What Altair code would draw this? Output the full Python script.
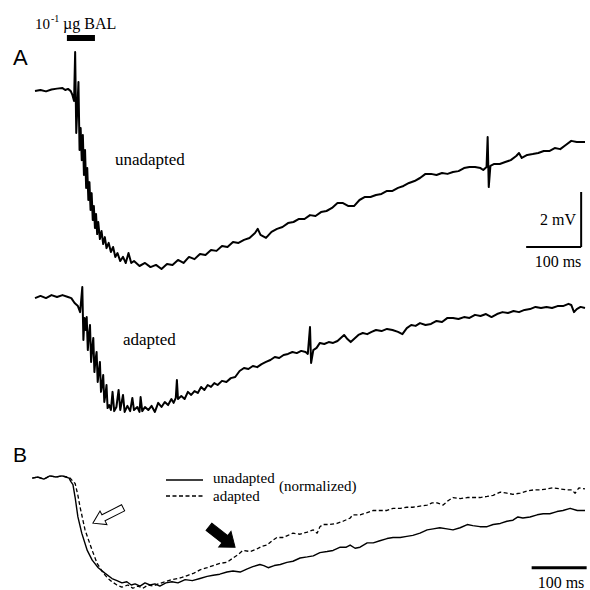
import altair as alt
import pandas as pd

# ---------------- data (time in ms, voltage in mV / normalized units) ----------------
unadapted_A = [(0,-0.04),(10,0),(20,-0.05),(30,0.02),(40,0.05),(50,0.07),(55,0),(60,0.04),(65,-0.04),(68,-0.18),
    (71,-0.4),(73,1.38),(75,-1.56),(77,-0.65),(79,0.29),(81,-2.18),(83,-1.38),(85,-2.55),(87,-1.64),(89,-3.09),
    (91,-2.18),(93,-3.56),(95,-2.84),(97,-4.0),(99,-3.35),(101,-4.36),(103,-3.75),(105,-4.73),(107,-4.22),(109,-5.02),
    (111,-4.51),(113,-5.24),(115,-4.8),(118,-5.42),(121,-5.13),(124,-5.6),(127,-5.35),(130,-5.75),(134,-5.56),(138,-5.89),
    (142,-5.71),(146,-6.07),(150,-5.93),(155,-6.22),(160,-6.07),(165,-6.29),(170,-5.93),(175,-6.29),(180,-6.22),(190,-6.4),
    (200,-6.29),(210,-6.44),(220,-6.36),(230,-6.51),(240,-6.33),(250,-6.36),(260,-6.18),(270,-6.29),(280,-6.07),(290,-6.15),
    (300,-5.96),(310,-6.0),(320,-5.82),(330,-5.85),(340,-5.67),(350,-5.71),(360,-5.53),(370,-5.56),(380,-5.45),(390,-5.38),
    (400,-5.2),(405,-5.05),(410,-5.27),(420,-5.38),(430,-5.16),(440,-5.05),(450,-4.98),(460,-4.84),(470,-4.8),(480,-4.69),
    (490,-4.69),(500,-4.55),(510,-4.58),(520,-4.44),(530,-4.4),(540,-4.29),(550,-4.11),(560,-4.11),(570,-4.22),(580,-4.22),
    (590,-4.0),(600,-3.89),(610,-3.89),(620,-3.82),(630,-3.78),(640,-3.67),(650,-3.67),(660,-3.56),(670,-3.49),(680,-3.38),
    (690,-3.31),(700,-3.2),(710,-3.05),(720,-3.05),(730,-3.09),(740,-3.02),(750,-3.05),(760,-2.98),(770,-2.95),(780,-2.84),
    (790,-2.8),(800,-2.8),(810,-2.84),(815,-2.91),(821,-2.8),(823,-1.71),(825,-3.53),(828,-2.76),(835,-2.69),(845,-2.69),
    (855,-2.62),(865,-2.55),(875,-2.4),(880,-2.29),(885,-2.47),(895,-2.36),(905,-2.33),(915,-2.29),(925,-2.22),(935,-2.22),
    (945,-2.11),(955,-2.15),(965,-2.0),(975,-1.85),(985,-1.89),(1000,-1.89)]

adapted_A = [(0,-0.04),(10,0.04),(20,-0.04),(30,0.07),(40,0),(50,0.07),(60,0),(66,-0.04),(72,-0.22),(78,-0.33),
    (82,-0.55),(84,-0.11),(86,0.36),(88,-1.56),(90,-0.76),(92,-1.2),(94,-0.73),(96,-1.93),(98,-1.38),(100,-1.02),
    (102,-2.36),(104,-1.85),(106,-1.49),(108,-2.73),(110,-2.29),(112,-2.0),(114,-3.09),(116,-2.73),(118,-2.36),(120,-3.45),
    (122,-3.2),(124,-2.84),(126,-3.82),(128,-3.56),(130,-3.2),(132,-4.04),(135,-3.93),(138,-4.11),(141,-3.45),(144,-4.15),
    (148,-4.0),(152,-3.38),(155,-4.11),(160,-3.56),(163,-4.18),(168,-3.96),(173,-4.15),(177,-3.67),(180,-4.11),(186,-4.0),
    (190,-4.18),(192,-3.64),(195,-4.15),(200,-4.0),(206,-4.11),(212,-3.96),(218,-4.18),(224,-3.85),(230,-4.0),(236,-3.82),
    (242,-3.93),(248,-3.71),(252,-3.85),(256,-3.67),(258,-3.02),(260,-3.71),(266,-3.6),(272,-3.71),(278,-3.45),(284,-3.56),
    (290,-3.42),(296,-3.49),(302,-3.27),(308,-3.38),(314,-3.2),(320,-3.27),(326,-3.13),(332,-3.2),(340,-3.05),(348,-3.09),
    (356,-2.95),(364,-2.91),(372,-2.69),(380,-2.58),(388,-2.62),(396,-2.51),(404,-2.55),(412,-2.44),(420,-2.36),(428,-2.29),
    (436,-2.18),(444,-2.22),(452,-2.11),(460,-2.07),(468,-2.0),(476,-2.04),(484,-1.96),(492,-2.0),(496,-2.07),(500,-1.09),
    (502,-2.4),(506,-1.93),(512,-1.85),(518,-1.67),(526,-1.71),(534,-1.64),(542,-1.67),(550,-1.6),(556,-1.49),(562,-1.38),
    (568,-1.53),(574,-1.64),(580,-1.53),(588,-1.38),(596,-1.31),(604,-1.35),(612,-1.27),(620,-1.2),(630,-1.24),(640,-1.16),
    (650,-1.2),(660,-1.27),(668,-1.35),(676,-1.13),(684,-1.02),(692,-1.05),(700,-0.95),(710,-1.02),(720,-0.98),(730,-0.87),
    (740,-0.91),(750,-0.76),(760,-0.76),(770,-0.8),(780,-0.73),(790,-0.76),(800,-0.65),(810,-0.69),(820,-0.62),(830,-0.73),
    (840,-0.62),(850,-0.55),(860,-0.58),(870,-0.51),(880,-0.55),(890,-0.47),(900,-0.44),(910,-0.36),(920,-0.4),(930,-0.36),
    (940,-0.4),(950,-0.33),(960,-0.33),(970,-0.25),(975,-0.29),(980,-0.55),(985,-0.44),(992,-0.36),(1000,-0.4)]

unadapted_B = [(-5,-0.01),(5,0),(16,-0.02),(27,0.01),(38,0),(49,0.01),(56,0),(62,-0.01),(65,-0.04),(69,-0.07),
    (73,-0.19),(78,-0.37),(85,-0.52),(95,-0.68),(104,-0.77),(115,-0.84),(127,-0.89),(140,-0.94),(149,-0.96),(158,-0.98),
    (167,-0.97),(175,-1.0),(182,-0.99),(191,-1.01),(200,-0.98),(209,-1.0),(218,-0.99),(227,-1.01),(238,-0.98),(249,-0.97),
    (260,-0.98),(273,-0.95),(286,-0.96),(300,-0.94),(313,-0.92),(324,-0.91),(336,-0.9),(349,-0.88),(360,-0.87),(373,-0.88),
    (386,-0.85),(396,-0.83),(409,-0.81),(416,-0.82),(424,-0.84),(435,-0.82),(446,-0.81),(458,-0.79),(469,-0.78),(482,-0.75),
    (495,-0.74),(506,-0.73),(518,-0.7),(531,-0.69),(542,-0.68),(555,-0.65),(566,-0.65),(573,-0.63),(582,-0.66),(591,-0.65),
    (604,-0.61),(615,-0.61),(627,-0.59),(640,-0.57),(651,-0.56),(664,-0.56),(676,-0.55),(687,-0.54),(700,-0.52),(713,-0.49),
    (724,-0.48),(736,-0.47),(749,-0.48),(760,-0.49),(773,-0.47),(786,-0.44),(796,-0.45),(809,-0.46),(822,-0.46),(833,-0.44),
    (846,-0.43),(858,-0.41),(869,-0.4),(878,-0.37),(887,-0.38),(900,-0.37),(913,-0.35),(924,-0.34),(936,-0.34),(949,-0.32),
    (960,-0.31),(973,-0.29),(986,-0.31),(1000,-0.31)]

adapted_B = [(-5,-0.01),(5,0),(16,-0.02),(27,0.01),(38,0),(49,0.01),(58,0),(64,-0.01),(69,-0.04),(73,-0.06),
    (78,-0.17),(82,-0.28),(91,-0.49),(104,-0.68),(113,-0.8),(124,-0.89),(133,-0.94),(140,-0.97),(149,-1.0),(158,-1.02),
    (169,-1.0),(178,-1.03),(187,-1.01),(196,-1.03),(206,-1.0),(215,-1.01),(224,-0.99),(236,-0.97),(249,-0.95),(260,-0.94),
    (267,-0.93),(278,-0.91),(289,-0.89),(300,-0.86),(313,-0.84),(324,-0.82),(336,-0.8),(349,-0.79),(360,-0.75),(369,-0.72),
    (378,-0.68),(391,-0.69),(402,-0.67),(413,-0.64),(422,-0.63),(431,-0.59),(440,-0.56),(451,-0.56),(460,-0.54),(469,-0.52),
    (482,-0.53),(495,-0.51),(506,-0.49),(513,-0.52),(518,-0.46),(524,-0.44),(536,-0.44),(549,-0.43),(560,-0.41),(573,-0.38),
    (578,-0.35),(591,-0.35),(604,-0.33),(615,-0.31),(627,-0.31),(640,-0.31),(651,-0.29),(664,-0.29),(676,-0.28),(687,-0.28),
    (700,-0.27),(713,-0.26),(722,-0.24),(731,-0.24),(742,-0.26),(751,-0.22),(760,-0.19),(773,-0.2),(786,-0.19),(796,-0.19),
    (809,-0.19),(822,-0.18),(833,-0.17),(846,-0.14),(858,-0.15),(869,-0.16),(882,-0.15),(895,-0.13),(906,-0.12),(918,-0.12),
    (931,-0.11),(942,-0.1),(955,-0.11),(967,-0.12),(976,-0.12),(982,-0.15),(989,-0.1),(1000,-0.11)]

stimulus_ms = [58, 109]          # 10^-1 ug BAL application
scalebar_ms = 100
scalebar_mV = 2

# ---------------- layout (pixel geometry of the figure) ----------------
W = H = 590
PX_PER_MS = 0.55
X0 = 35                       # pixel of t = 0
PX_PER_MV = 27.5
Y_A1 = 90                     # pixel of baseline, trace A unadapted
Y_A2 = 297                    # pixel of baseline, trace A adapted
Y_B = 477                     # pixel of baseline, panel B
PX_PER_NORM = 108

XMIN = -X0 / PX_PER_MS
XMAX = (W - X0) / PX_PER_MS
YMAX = Y_A1 / PX_PER_MV
YMIN = (Y_A1 - H) / PX_PER_MV
OFF_A2 = (Y_A1 - Y_A2) / PX_PER_MV
OFF_B = (Y_A1 - Y_B) / PX_PER_MV
GAIN_B = PX_PER_NORM / PX_PER_MV

xs = alt.Scale(domain=[XMIN, XMAX], nice=False, zero=False)
ys = alt.Scale(domain=[YMIN, YMAX], nice=False, zero=False)


def frame(pairs):
    return pd.DataFrame(pairs, columns=["t", "v"])


def trace(pairs, expr, width, dash=None):
    kw = dict(color="black", strokeWidth=width, interpolate="linear", strokeJoin="round")
    if dash:
        kw["strokeDash"] = dash
    return (alt.Chart(frame(pairs)).transform_calculate(y=expr)
            .mark_line(**kw)
            .encode(x=alt.X("t:Q", scale=xs, axis=None), y=alt.Y("y:Q", scale=ys, axis=None)))


layers = [
    trace(unadapted_A, "datum.v", 2.0),
    trace(adapted_A, f"datum.v + {OFF_A2}", 2.0),
    trace(unadapted_B, f"{OFF_B} + {GAIN_B} * datum.v", 1.4),
    trace(adapted_B, f"{OFF_B} + {GAIN_B} * datum.v", 1.3, dash=[4, 2.5]),
]

# stimulus bar
layers.append(alt.Chart(pd.DataFrame({"t0": [stimulus_ms[0]], "t1": [stimulus_ms[1]]}))
              .mark_rule(color="black", strokeWidth=6)
              .encode(x=alt.X("t0:Q", scale=xs, axis=None), x2="t1:Q", y=alt.value(38)))

# scale bars panel A (L-shape)
tA = 993
vA = (Y_A1 - 247) / PX_PER_MV
layers.append(alt.Chart(pd.DataFrame({"t0": [tA - scalebar_ms], "t1": [tA], "v": [vA]}))
              .mark_rule(color="black", strokeWidth=2)
              .encode(x=alt.X("t0:Q", scale=xs, axis=None), x2="t1:Q", y=alt.Y("v:Q", scale=ys, axis=None)))
layers.append(alt.Chart(pd.DataFrame({"t": [tA], "v0": [vA], "v1": [vA + scalebar_mV]}))
              .mark_rule(color="black", strokeWidth=2)
              .encode(x=alt.X("t:Q", scale=xs, axis=None), y=alt.Y("v0:Q", scale=ys, axis=None), y2="v1:Q"))
# scale bar panel B
tB = 1003
layers.append(alt.Chart(pd.DataFrame({"t0": [tB - scalebar_ms], "t1": [tB], "n": [-0.84]}))
              .transform_calculate(y=f"{OFF_B} + {GAIN_B} * datum.n")
              .mark_rule(color="black", strokeWidth=3)
              .encode(x=alt.X("t0:Q", scale=xs, axis=None), x2="t1:Q", y=alt.Y("y:Q", scale=ys, axis=None)))

one = pd.DataFrame({"k": [0]})

# legend samples in panel B
layers.append(alt.Chart(one).mark_rule(color="black", strokeWidth=1.4)
              .encode(x=alt.value(166), x2=alt.value(203), y=alt.value(480)))
layers.append(alt.Chart(one).mark_rule(color="black", strokeWidth=1.3, strokeDash=[4, 2.5])
              .encode(x=alt.value(166), x2=alt.value(203), y=alt.value(496)))

SERIF = "Liberation Serif"
SANS = "Liberation Sans"


def label(text, x, y, size, font=SERIF, align="left"):
    return (alt.Chart(one).mark_text(text=text, font=font, fontSize=size, align=align,
                                     baseline="alphabetic", color="black")
            .encode(x=alt.value(x), y=alt.value(y)))


layers += [
    label("10", 50, 29, 15, align="right"),
    label("-1", 51, 22, 10),
    label("\u00b5g BAL", 63, 29, 16),
    label("A", 13, 65, 22, font=SANS),
    label("B", 13, 462, 21, font=SANS),
    label("unadapted", 115, 165, 17),
    label("adapted", 123, 345, 17),
    label("2 mV", 576, 225, 16, align="right"),
    label("100 ms", 558, 267, 16, align="center"),
    label("unadapted", 213, 483, 15),
    label("adapted", 213, 501, 15),
    label("(normalized)", 279, 491, 15),
    label("100 ms", 561, 588, 16, align="center"),
]

# arrows (custom symbol pointing to +x, rotated)
WHITE_ARROW = "M -1 -0.2 L 0.3 -0.2 L 0.3 -0.45 L 1 0 L 0.3 0.45 L 0.3 0.2 L -1 0.2 Z"
BLACK_ARROW = "M -1 -0.28 L 0.22 -0.28 L 0.22 -0.6 L 1 0 L 0.22 0.6 L 0.22 0.28 L -1 0.28 Z"
layers.append(alt.Chart(one).mark_point(shape=WHITE_ARROW, size=1150, angle=153, filled=True,
                                         fill="white", stroke="black", strokeWidth=1, opacity=1)
              .encode(x=alt.value(108), y=alt.value(515.5)))
layers.append(alt.Chart(one).mark_point(shape=BLACK_ARROW, size=1100, angle=38, filled=True,
                                         fill="black", stroke="black", strokeWidth=1, opacity=1)
              .encode(x=alt.value(222), y=alt.value(537)))

chart = (alt.layer(*layers)
         .properties(width=W, height=H, padding=0, autosize="none", background="white")
         .configure_view(stroke=None))

chart.save("out.html", embed_options={"renderer": "svg", "actions": False})
